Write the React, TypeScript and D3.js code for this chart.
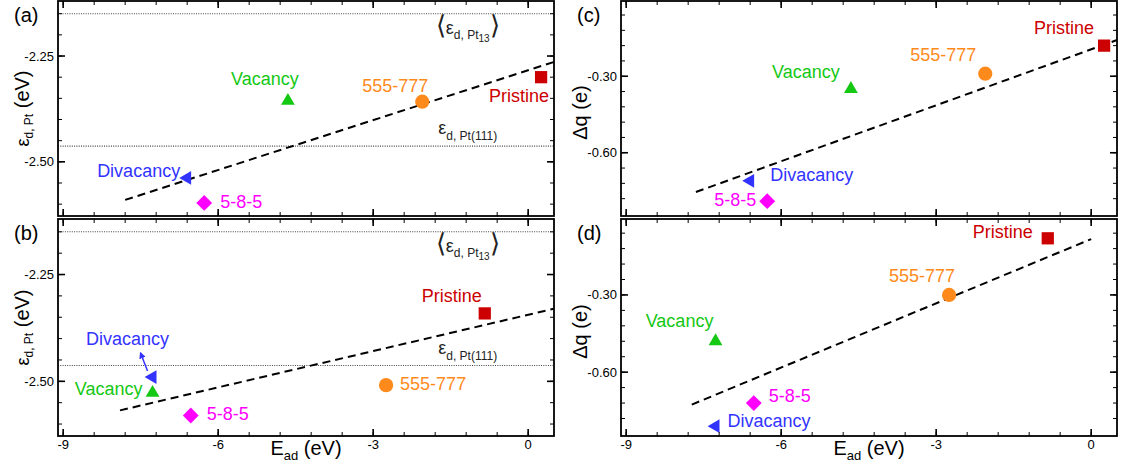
import React from "react";
import * as d3 from "d3";

// structures, same order in every array below
const structures = ["Pristine", "555-777", "Vacancy", "Divacancy", "5-8-5"];
const colors = ["#cc0000", "#ff8a1c", "#14c814", "#3333ff", "#ff00ff"];
const shapes = ["square", "circle", "triangle", "left", "diamond"];

// adsorption energies (eV), top row (a, c) and bottom row (b, d)
const eadTop = [0.25, -2.05, -4.65, -6.6, -6.27];
const eadBottom = [-0.84, -2.75, -7.27, -7.27, -6.53];

// d-band centre of Pt (eV)
const edA = [-2.3, -2.358, -2.356, -2.538, -2.597];
const edB = [-2.341, -2.509, -2.527, -2.49, -2.58];

// charge transfer (e)
const dqC = [-0.18, -0.29, -0.35, -0.71, -0.79];
const dqD = [-0.08, -0.3, -0.48, -0.81, -0.72];

// linear fits, two end points each
const fitAx = [-7.8, 0.5];
const fitAy = [-2.59, -2.264];
const fitBx = [-7.9, 0.5];
const fitBy = [-2.568, -2.33];
const fitCx = [-7.65, 0.5];
const fitCy = [-0.754, -0.158];
const fitDx = [-7.73, 0];
const fitDy = [-0.726, -0.083];

// reference d-band centres
const edPt13 = -2.15;
const edPt111 = -2.463;

const xTicks = [-9, -6, -3, 0];
const xMinor = d3.range(-9, 0.51, 0.6);
const edTicks = [-2.25, -2.5];
const edMinor = d3.range(-2.6, -2.12, 0.05);
const dqTicks = [-0.3, -0.6];
const dqMinor = d3.range(-0.78, -0.01, 0.06);

// label placement: [dx, dy, anchor] relative to the marker, in px
const labA = [[-22, 25, "middle"], [-27, -10, "middle"], [-23, -16, "middle"], [-7, -1, "end"], [16, 5, "start"]];
const labB = [[-33, -11, "middle"], [14, 5, "start"], [-10, 2, "end"], [-25, -32, "middle"], [16, 5, "start"]];
const labC = [[-40, -12, "middle"], [-42, -13, "middle"], [-45, -11, "middle"], [20, 0, "start"], [-11, 5, "end"]];
const labD = [[-45, 0, "middle"], [-27, -13, "middle"], [-36, -14, "middle"], [12, 1, "start"], [15, -1, "start"]];

const W = 1123;
const H = 465;
const FONT = "'Liberation Sans', Arial, Helvetica, sans-serif";
const xDomain = [-9.1, 0.5];

const markerPath = (shape: string) => {
  if (shape === "circle") return d3.symbol(d3.symbolCircle, 160)();
  if (shape === "square") return d3.symbol(d3.symbolSquare, 150)();
  if (shape === "diamond") return d3.symbol(d3.symbolSquare, 125)();
  return d3.symbol(d3.symbolTriangle, 82)();
};
const markerRot = (shape: string) =>
  shape === "left" ? -90 : shape === "diamond" ? 45 : 0;

const EdTitle = () => (
  <>
    <tspan fontSize={18}>ε</tspan>
    <tspan fontSize={12} dy={4}>d, Pt</tspan>
    <tspan fontSize={20} dy={-4}> (eV)</tspan>
  </>
);

type PanelProps = {
  x0: number;
  y0: number;
  h: number;
  xs: number[];
  ys: number[];
  fx: number[];
  fy: number[];
  yDomain: number[];
  yTicks: number[];
  yMinor: number[];
  labels: any[];
  letter: string;
  kind: "ed" | "dq";
  showX: boolean;
  arrow?: boolean;
  refs?: boolean;
};

const Panel = ({ x0, y0, h, xs, ys, fx, fy, yDomain, yTicks, yMinor, labels, letter, kind, showX, arrow, refs }: PanelProps) => {
  const w = 496;
  const x = d3.scaleLinear().domain(xDomain).range([x0, x0 + w]);
  const y = d3.scaleLinear().domain(yDomain).range([y0 + h, y0]);
  const line = d3.line<number>().x((d, i) => x(fx[i])).y((d) => y(d));
  const cy = y0 + h / 2;

  return (
    <g fontFamily={FONT}>
      {refs && (
        <g>
          {[edPt13, edPt111].map((v) => (
            <line key={v} x1={x0} x2={x0 + w} y1={y(v)} y2={y(v)} stroke="#444" strokeWidth={1.1} strokeDasharray="1,1.3" />
          ))}
          <text x={x(-1.17)} y={y(edPt13) + 20} textAnchor="middle" fill="#222">
            <tspan fontSize={26} fontWeight={300}>⟨</tspan>
            <tspan fontSize={18}>ε</tspan>
            <tspan fontSize={12} dy={5}>d, Pt</tspan>
            <tspan fontSize={10} dy={3}>13</tspan>
            <tspan fontSize={26} fontWeight={300} dy={-8}>⟩</tspan>
          </text>
          <text x={x(-1.17)} y={y(edPt111) - 12} textAnchor="middle" fill="#222">
            <tspan fontSize={18}>ε</tspan>
            <tspan fontSize={12} dy={6}>d, Pt(111)</tspan>
          </text>
        </g>
      )}

      <path d={line(fy) || ""} fill="none" stroke="#000" strokeWidth={2} strokeDasharray="8,5" />

      {xs.map((v, i) => (
        <path
          key={structures[i]}
          d={markerPath(shapes[i]) || ""}
          transform={`translate(${x(v)},${y(ys[i])}) rotate(${markerRot(shapes[i])})`}
          fill={colors[i]}
        />
      ))}

      {arrow && (
        <line
          x1={x(xs[3]) - 5}
          y1={y(ys[3]) - 6}
          x2={x(xs[3]) - 12}
          y2={y(ys[3]) - 24}
          stroke={colors[3]}
          strokeWidth={1.5}
          markerEnd="url(#arrowHead)"
        />
      )}

      {xs.map((v, i) => (
        <text
          key={"l" + i}
          x={x(v) + labels[i][0]}
          y={y(ys[i]) + labels[i][1]}
          textAnchor={labels[i][2]}
          fontSize={18}
          fill={colors[i]}
        >
          {structures[i]}
        </text>
      ))}

      {/* ticks on all four sides */}
      {xMinor.map((v) => (
        <g key={"xm" + v}>
          <line x1={x(v)} x2={x(v)} y1={y0 + h} y2={y0 + h - 4} stroke="#000" strokeWidth={1} />
          <line x1={x(v)} x2={x(v)} y1={y0} y2={y0 + 4} stroke="#000" strokeWidth={1} />
        </g>
      ))}
      {xTicks.map((v) => (
        <g key={"xt" + v}>
          <line x1={x(v)} x2={x(v)} y1={y0 + h} y2={y0 + h - 7} stroke="#000" strokeWidth={1.6} />
          <line x1={x(v)} x2={x(v)} y1={y0} y2={y0 + 7} stroke="#000" strokeWidth={1.6} />
          {showX && (
            <text x={x(v)} y={y0 + h + 13} textAnchor="middle" fontSize={13}>
              {`${v}`}
            </text>
          )}
        </g>
      ))}
      {yMinor.map((v) => (
        <g key={"ym" + v}>
          <line x1={x0} x2={x0 + 4} y1={y(v)} y2={y(v)} stroke="#000" strokeWidth={1} />
          <line x1={x0 + w} x2={x0 + w - 4} y1={y(v)} y2={y(v)} stroke="#000" strokeWidth={1} />
        </g>
      ))}
      {yTicks.map((v) => (
        <g key={"yt" + v}>
          <line x1={x0} x2={x0 + 7} y1={y(v)} y2={y(v)} stroke="#000" strokeWidth={1.6} />
          <line x1={x0 + w} x2={x0 + w - 7} y1={y(v)} y2={y(v)} stroke="#000" strokeWidth={1.6} />
          <text x={x0 - 4} y={y(v) + 4.5} textAnchor="end" fontSize={13}>
            {v.toFixed(2)}
          </text>
        </g>
      ))}

      <rect x={x0} y={y0} width={w} height={h} fill="none" stroke="#000" strokeWidth={1.8} />

      <text x={x0 - 44} y={y0 + 21} fontSize={20}>
        {letter}
      </text>

      {kind === "ed" ? (
        <text transform={`translate(${x0 - 29},${cy}) rotate(-90)`} textAnchor="middle">
          <EdTitle />
        </text>
      ) : (
        <text transform={`translate(${x0 - 34},${cy + 4}) rotate(-90)`} textAnchor="middle" fontSize={20}>
          Δq (e)
        </text>
      )}

      {showX && (
        <text x={x0 + w / 2} y={y0 + h + 19} textAnchor="middle" fontSize={20}>
          E<tspan fontSize={13} dy={5}>ad</tspan>
          <tspan dy={-5}> (eV)</tspan>
        </text>
      )}
    </g>
  );
};

const App = () => {
  const edDomain = [-2.628, -2.12];
  const dqDomain = [-0.848, -0.005];
  return (
    <div style={{ position: "absolute", left: 0, top: 0 }}>
      <svg width={W} height={H} style={{ display: "block", background: "#fff" }}>
        <defs>
          <marker id="arrowHead" viewBox="0 0 10 10" refX="8" refY="5" markerWidth="4.5" markerHeight="4.5" orient="auto">
            <path d="M0,0 L10,5 L0,10 z" fill={colors[3]} />
          </marker>
        </defs>
        <Panel x0={58} y0={1} h={215} xs={eadTop} ys={edA} fx={fitAx} fy={fitAy} yDomain={edDomain}
          yTicks={edTicks} yMinor={edMinor} labels={labA} letter="(a)" kind="ed" showX={false} refs />
        <Panel x0={58} y0={219} h={217} xs={eadBottom} ys={edB} fx={fitBx} fy={fitBy} yDomain={edDomain}
          yTicks={edTicks} yMinor={edMinor} labels={labB} letter="(b)" kind="ed" showX arrow refs />
        <Panel x0={621} y0={1} h={215} xs={eadTop} ys={dqC} fx={fitCx} fy={fitCy} yDomain={dqDomain}
          yTicks={dqTicks} yMinor={dqMinor} labels={labC} letter="(c)" kind="dq" showX={false} />
        <Panel x0={621} y0={219} h={217} xs={eadBottom} ys={dqD} fx={fitDx} fy={fitDy} yDomain={dqDomain}
          yTicks={dqTicks} yMinor={dqMinor} labels={labD} letter="(d)" kind="dq" showX />
      </svg>
    </div>
  );
};

export default App;
